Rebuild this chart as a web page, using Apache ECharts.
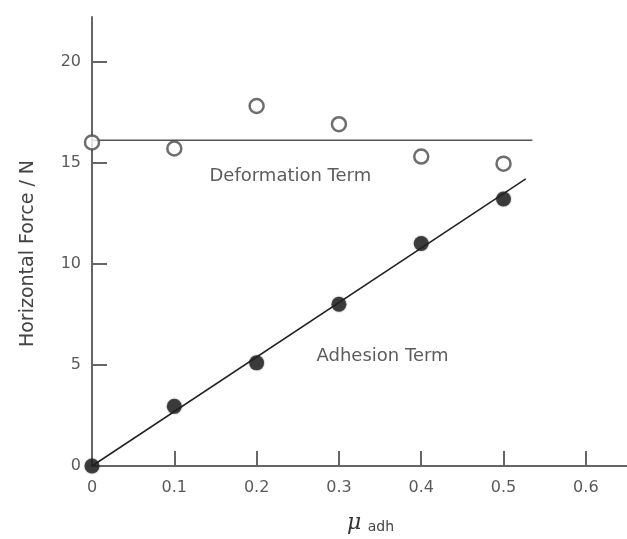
<!DOCTYPE html>
<html>
<head>
<meta charset="utf-8">
<script src="https://cdn.jsdelivr.net/npm/echarts@6/dist/echarts.min.js"></script>
<style>
  html, body { margin: 0; padding: 0; background: #fff; }
  #chart { width: 627px; height: 539px; }
</style>
</head>
<body>
<div id="chart"></div>
<script>
// Friction coefficient of adhesion (x) against measured horizontal force (y)
const muAdh = [0, 0.1, 0.2, 0.3, 0.4, 0.5];
const deformationForce = [16.0, 15.7, 17.8, 16.9, 15.3, 14.95];
const adhesionForce = [0, 2.95, 5.1, 8.0, 11.0, 13.2];

// Mean deformation level and linear adhesion fit
const deformationMean = 16.1;
const deformationLineX = [0, 0.535];
const adhesionFitX = [0, 0.527];
const adhesionFitY = [0, 14.2];

// Annotation anchors in data units
const deformationLabelPos = [0.241, 14.3];
const adhesionLabelPos = [0.353, 5.4];

const xTicks = [0, 0.1, 0.2, 0.3, 0.4, 0.5, 0.6];
const yTicks = [0, 5, 10, 15, 20];

const font = 'DejaVu Sans, Noto Sans, sans-serif';
const axisGray = '#666';
const labelGray = '#5a5a5a';

const chart = echarts.init(document.getElementById('chart'), null, { renderer: 'canvas' });

chart.setOption({
  animation: false,
  backgroundColor: '#fff',
  grid: { left: 92, top: 17, width: 538, height: 451, containLabel: false },
  xAxis: {
    type: 'value', min: 0, max: 0.65, interval: 0.1,
    name: '{mu|\u03BC}{sub| adh}',
    nameLocation: 'middle', nameGap: 46,
    nameTextStyle: {
      padding: [0, 0, 0, 22],
      rich: {
        mu: { fontFamily: 'DejaVu Serif, serif', fontStyle: 'italic', fontSize: 22, color: '#333' },
        sub: { fontFamily: font, fontSize: 14, color: '#444', padding: [8, 0, 0, 2] }
      }
    },
    axisLine: { show: true, onZero: false, lineStyle: { color: axisGray, width: 2 } },
    axisTick: { show: true, inside: true, length: 15, lineStyle: { color: axisGray, width: 2 } },
    splitLine: { show: false },
    axisLabel: {
      margin: 14, color: labelGray, fontFamily: font, fontSize: 16,
      showMaxLabel: false,
      formatter: v => (xTicks.some(t => Math.abs(t - v) < 1e-6) ? (v === 0 ? '0' : v.toFixed(1)) : '')
    }
  },
  yAxis: {
    type: 'value', min: 0, max: 22.2, interval: 5,
    name: 'Horizontal Force / N',
    nameLocation: 'middle', nameGap: 54, nameRotate: 90,
    nameTextStyle: { fontFamily: font, fontSize: 19, color: '#444', padding: [0, 0, 0, -24] },
    axisLine: { show: true, onZero: false, lineStyle: { color: axisGray, width: 2 } },
    axisTick: { show: true, inside: true, length: 15, lineStyle: { color: axisGray, width: 2 } },
    splitLine: { show: false },
    axisLabel: {
      margin: 11, color: labelGray, fontFamily: font, fontSize: 16,
      showMaxLabel: false,
      formatter: v => (yTicks.includes(v) ? String(v) : '')
    }
  },
  series: [
    {
      name: 'deformation mean', type: 'line', silent: true,
      data: deformationLineX.map(x => [x, deformationMean]),
      symbol: 'none', lineStyle: { color: '#555', width: 1.5 }, z: 2
    },
    {
      name: 'adhesion fit', type: 'line', silent: true,
      data: adhesionFitX.map((x, i) => [x, adhesionFitY[i]]),
      symbol: 'none', lineStyle: { color: '#222', width: 1.5 }, z: 2
    },
    {
      name: 'Deformation Term', type: 'scatter',
      data: muAdh.map((x, i) => [x, deformationForce[i]]),
      symbol: 'circle', symbolSize: 14,
      itemStyle: { color: '#fff', borderColor: '#4a4a4a', borderWidth: 2.5 }, z: 5
    },
    {
      name: 'Adhesion Term', type: 'scatter',
      data: muAdh.map((x, i) => [x, adhesionForce[i]]),
      symbol: 'circle', symbolSize: 15,
      itemStyle: { color: '#222', shadowBlur: 2, shadowColor: 'rgba(0,0,0,0.5)' }, z: 5
    },
    {
      name: 'annotations', type: 'scatter', silent: true,
      symbolSize: 0,
      data: [
        { value: deformationLabelPos, label: { formatter: 'Deformation Term' } },
        { value: adhesionLabelPos, label: { formatter: 'Adhesion Term' } }
      ],
      label: {
        show: true, position: 'inside', color: '#333',
        fontFamily: font, fontSize: 18
      },
      z: 6
    }
  ]
});
</script>
</body>
</html>
